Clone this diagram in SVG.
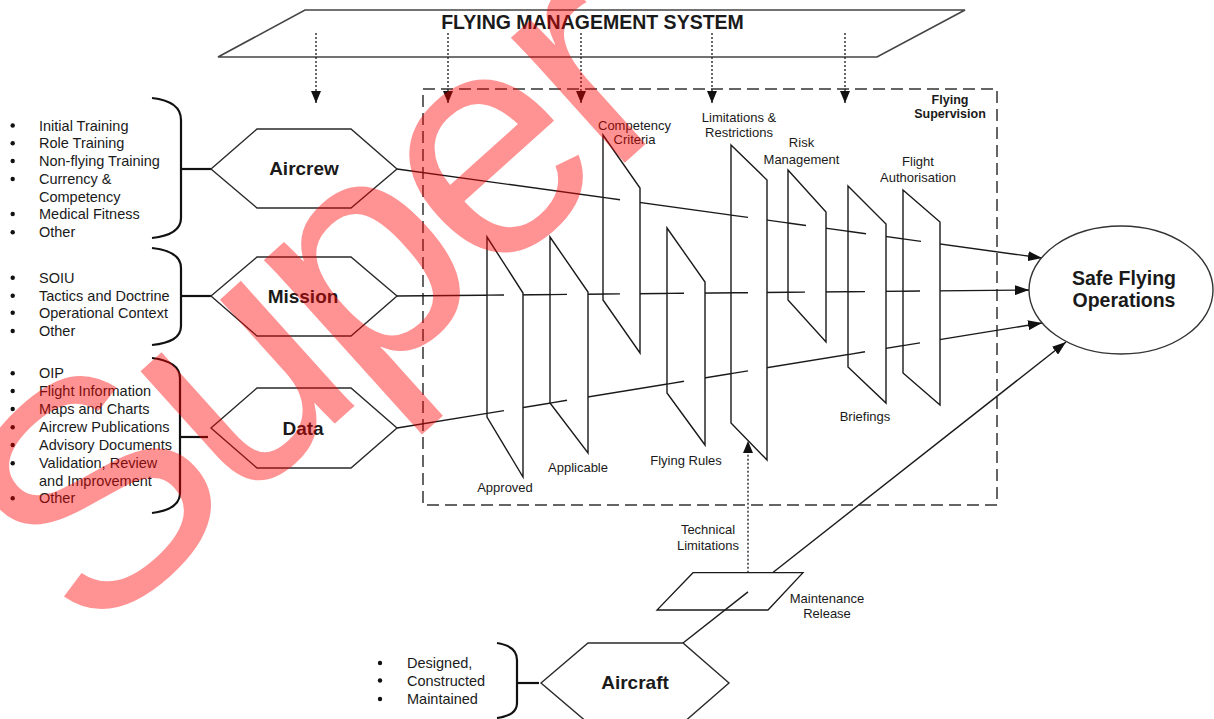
<svg xmlns="http://www.w3.org/2000/svg" width="1214" height="719" viewBox="0 0 1214 719">
<style>
.t{font-family:"Liberation Sans",Arial,sans-serif;fill:#1a1a1a}
.b{font-weight:bold}
.lst{font-size:14.5px}
.lbl{font-size:13px;text-anchor:middle}
.hx{font-size:19px;font-weight:bold;text-anchor:middle}
.hex{fill:#fff;stroke:#2a2a2a;stroke-width:1.4}
.panel{fill:#fff;stroke:#1a1a1a;stroke-width:1.4;stroke-linejoin:miter}
.ln{stroke:#1a1a1a;stroke-width:1.4;fill:none}
.dot{stroke:#1a1a1a;stroke-width:1.3;stroke-dasharray:2 2;fill:none}
.brace{fill:none;stroke:#111;stroke-width:2.2}
.bul{fill:#111}
</style>
<defs>
<marker id="ah" viewBox="0 0 14 10" refX="14" refY="5" markerWidth="14" markerHeight="10" markerUnits="userSpaceOnUse" orient="auto"><path d="M0,0 L14,5 L0,10 z" fill="#111"/></marker>
<marker id="ad" viewBox="0 0 12 10" refX="12" refY="5" markerWidth="12" markerHeight="10" markerUnits="userSpaceOnUse" orient="auto"><path d="M0,0 L12,5 L0,10 z" fill="#111"/></marker>
</defs>
<rect width="1214" height="719" fill="#fff"/>

<g id="fms">
<polygon points="305,10 965,10 877,57 218,57" fill="#fff" stroke="#444" stroke-width="1.6"/>
<text class="t b" x="592.5" y="28.5" font-size="19.5" text-anchor="middle">FLYING MANAGEMENT SYSTEM</text>
</g>

<g id="flying-supervision">
<rect x="423" y="89" width="574" height="416" fill="none" stroke="#333" stroke-width="1.5" stroke-dasharray="12 6"/>
<text class="t b" font-size="12.5" text-anchor="middle"><tspan x="950" y="104">Flying</tspan><tspan x="950" y="118">Supervision</tspan></text>
</g>

<g id="connectors">
<line class="dot" x1="316" y1="33" x2="316" y2="103" marker-end="url(#ad)"/>
<line class="dot" x1="448" y1="33" x2="448" y2="103" marker-end="url(#ad)"/>
<line class="dot" x1="581" y1="33" x2="581" y2="103" marker-end="url(#ad)"/>
<line class="dot" x1="712" y1="33" x2="712" y2="103" marker-end="url(#ad)"/>
<line class="dot" x1="845" y1="33" x2="845" y2="103" marker-end="url(#ad)"/>
<line class="ln" x1="397" y1="169" x2="1042" y2="258" marker-end="url(#ah)"/>
<line class="ln" x1="397" y1="296" x2="1029" y2="290" marker-end="url(#ah)"/>
<line class="ln" x1="397" y1="428" x2="1042" y2="323" marker-end="url(#ah)"/>
<line class="ln" x1="772.6" y1="572.7" x2="1066" y2="342" marker-end="url(#ah)"/>
<line class="dot" x1="748" y1="572.7" x2="748" y2="441" marker-end="url(#ad)"/>
<line class="brace" x1="181" y1="169" x2="211" y2="169"/>
<line class="brace" x1="181" y1="296" x2="211" y2="296"/>
<line class="brace" x1="180" y1="437" x2="208" y2="437"/>
<line class="brace" x1="517" y1="683" x2="539" y2="683"/>
</g>

<g id="aircrew">
<path class="brace" d="M152,98 C170,100 181,106 181,120 L181,218 C181,230 170,236 152,238"/>
<circle class="bul" cx="12.7" cy="125.5" r="2.2"/><circle class="bul" cx="12.7" cy="143.3" r="2.2"/><circle class="bul" cx="12.7" cy="161" r="2.2"/><circle class="bul" cx="12.7" cy="179" r="2.2"/><circle class="bul" cx="12.7" cy="214" r="2.2"/><circle class="bul" cx="12.7" cy="232.3" r="2.2"/>
<text class="t lst"><tspan x="39" y="130.5">Initial Training</tspan><tspan x="39" y="148.3">Role Training</tspan><tspan x="39" y="166">Non-flying Training</tspan><tspan x="39" y="184">Currency &amp;</tspan><tspan x="39" y="201.7">Competency</tspan><tspan x="39" y="219">Medical Fitness</tspan><tspan x="39" y="237.3">Other</tspan></text>
<polygon class="hex" points="211,169 257,129 351,129 397,169 351,208 257,208"/>
<text class="t hx" x="304" y="174.5">Aircrew</text>
</g>

<g id="mission">
<path class="brace" d="M152,248 C170,250 181,256 181,268 L181,326 C181,338 170,343 152,345"/>
<circle class="bul" cx="12.7" cy="277.7" r="2.2"/><circle class="bul" cx="12.7" cy="295.7" r="2.2"/><circle class="bul" cx="12.7" cy="312.7" r="2.2"/><circle class="bul" cx="12.7" cy="331" r="2.2"/>
<text class="t lst"><tspan x="39" y="282.7">SOIU</tspan><tspan x="39" y="300.7">Tactics and Doctrine</tspan><tspan x="39" y="317.7">Operational Context</tspan><tspan x="39" y="336">Other</tspan></text>
<polygon class="hex" points="211,296 257,257 351,257 397,296 351,336 257,336"/>
<text class="t hx" x="303" y="302.5">Mission</text>
</g>

<g id="data">
<path class="brace" d="M152,358 C168,360 180,366 180,378 L180,493 C180,505 168,511 152,513"/>
<circle class="bul" cx="12.7" cy="373.3" r="2.2"/><circle class="bul" cx="12.7" cy="391" r="2.2"/><circle class="bul" cx="12.7" cy="409" r="2.2"/><circle class="bul" cx="12.7" cy="427.3" r="2.2"/><circle class="bul" cx="12.7" cy="445" r="2.2"/><circle class="bul" cx="12.7" cy="463.3" r="2.2"/><circle class="bul" cx="12.7" cy="498.3" r="2.2"/>
<text class="t lst"><tspan x="39" y="378.3">OIP</tspan><tspan x="39" y="396">Flight Information</tspan><tspan x="39" y="414">Maps and Charts</tspan><tspan x="39" y="432.3">Aircrew Publications</tspan><tspan x="39" y="450">Advisory Documents</tspan><tspan x="39" y="468.3">Validation, Review</tspan><tspan x="39" y="485.7">and Improvement</tspan><tspan x="39" y="503.3">Other</tspan></text>
<polygon class="hex" points="211,428 257,388 351,388 397,428 351,468 257,468"/>
<text class="t hx" x="303" y="434.5">Data</text>
</g>

<g id="panel-approved"><polygon class="panel" points="487,237 523,293 523,477 487,417"/><text class="t lbl" x="505" y="492">Approved</text></g>
<g id="panel-applicable"><polygon class="panel" points="550,237 588,292 588,453 550,403"/><text class="t lbl" x="578" y="472">Applicable</text></g>
<g id="panel-competency"><polygon class="panel" points="603,135 640,188 640,353 603,300"/><text class="t lbl"><tspan x="634.5" y="129.5">Competency</tspan><tspan x="634.5" y="144">Criteria</tspan></text></g>
<g id="panel-flying-rules"><polygon class="panel" points="667,228 705,282 705,445 667,393"/><text class="t lbl" x="686" y="464.5">Flying Rules</text></g>
<g id="panel-limitations"><polygon class="panel" points="731,145 767,180 767,460 731,423"/><text class="t lbl"><tspan x="739" y="121.5">Limitations &amp;</tspan><tspan x="739" y="137">Restrictions</tspan></text></g>
<g id="panel-risk"><polygon class="panel" points="788,170 826,212 826,342 788,300"/><text class="t lbl"><tspan x="801.5" y="147">Risk</tspan><tspan x="801.5" y="163.5">Management</tspan></text></g>
<g id="panel-briefings"><polygon class="panel" points="848,186 886,224 886,403 848,367"/><text class="t lbl" x="865" y="421">Briefings</text></g>
<g id="panel-authorisation"><polygon class="panel" points="903,190 940,222 940,405 903,373"/><text class="t lbl"><tspan x="918" y="166">Flight</tspan><tspan x="918" y="181.5">Authorisation</tspan></text></g>

<g id="maintenance-release">
<polygon points="693,572.7 803,572.7 768,610 657,610" fill="#fff" stroke="#1a1a1a" stroke-width="1.3"/>
<text class="t lbl"><tspan x="827" y="602.5">Maintenance</tspan><tspan x="827" y="618">Release</tspan></text>
</g>
<g id="technical-limitations-label">
<text class="t lbl"><tspan x="708" y="534">Technical</tspan><tspan x="708" y="550">Limitations</tspan></text>
</g>

<g id="connectors-front">
<line class="ln" x1="603" y1="197.4" x2="620" y2="199.8"/>
<line class="ln" x1="731" y1="215.1" x2="748" y2="217.4"/>
<line class="ln" x1="788" y1="223" x2="806" y2="225.5"/>
<line class="ln" x1="848" y1="231.2" x2="866" y2="233.7"/>
<line class="ln" x1="903" y1="238.9" x2="921" y2="241.4"/>
<line class="ln" x1="487" y1="295.1" x2="504" y2="295"/>
<line class="ln" x1="550" y1="294.6" x2="567" y2="294.4"/>
<line class="ln" x1="603" y1="294" x2="620" y2="293.9"/>
<line class="ln" x1="667" y1="293.4" x2="684" y2="293.3"/>
<line class="ln" x1="731" y1="292.8" x2="748" y2="292.7"/>
<line class="ln" x1="788" y1="292.3" x2="805" y2="292.1"/>
<line class="ln" x1="848" y1="291.7" x2="865" y2="291.6"/>
<line class="ln" x1="903" y1="291.2" x2="920" y2="291"/>
<line class="ln" x1="487" y1="413.4" x2="504" y2="410.6"/>
<line class="ln" x1="550" y1="403.1" x2="567" y2="400.3"/>
<line class="ln" x1="667" y1="384.1" x2="684" y2="381.3"/>
<line class="ln" x1="731" y1="373.6" x2="748" y2="370.9"/>
<line class="ln" x1="848" y1="354.6" x2="865" y2="351.8"/>
<line class="ln" x1="903" y1="345.6" x2="920" y2="342.9"/>
<line class="ln" x1="683" y1="643" x2="748" y2="591.9"/>
</g>

<g id="safe-flying-operations">
<ellipse cx="1121" cy="290" rx="92" ry="64" fill="#fff" stroke="#333" stroke-width="1.4"/>
<text class="t b" font-size="19.5" text-anchor="middle"><tspan x="1124" y="284.5">Safe Flying</tspan><tspan x="1124" y="306.5">Operations</tspan></text>
</g>

<g id="aircraft">
<path class="brace" d="M497,643 C510,645 517,650 517,660 L517,703 C517,712 510,716 497,718"/>
<circle class="bul" cx="380" cy="663" r="2.2"/><circle class="bul" cx="380" cy="680.5" r="2.2"/><circle class="bul" cx="380" cy="699" r="2.2"/>
<text class="t lst"><tspan x="407" y="668">Designed,</tspan><tspan x="407" y="685.5">Constructed</tspan><tspan x="407" y="704">Maintained</tspan></text>
<polygon class="hex" points="541,683 588,643 683,643 729,683 683,723 588,723"/>
<text class="t hx" x="635" y="688.5">Aircraft</text>
</g>

<g id="watermark" opacity="0.42">
<text x="0" y="0" transform="translate(88.5,645.5) rotate(-42)" font-family="Liberation Sans, Arial, sans-serif" font-size="320" letter-spacing="-12" fill="#ff0000">Super</text>
</g>
</svg>
